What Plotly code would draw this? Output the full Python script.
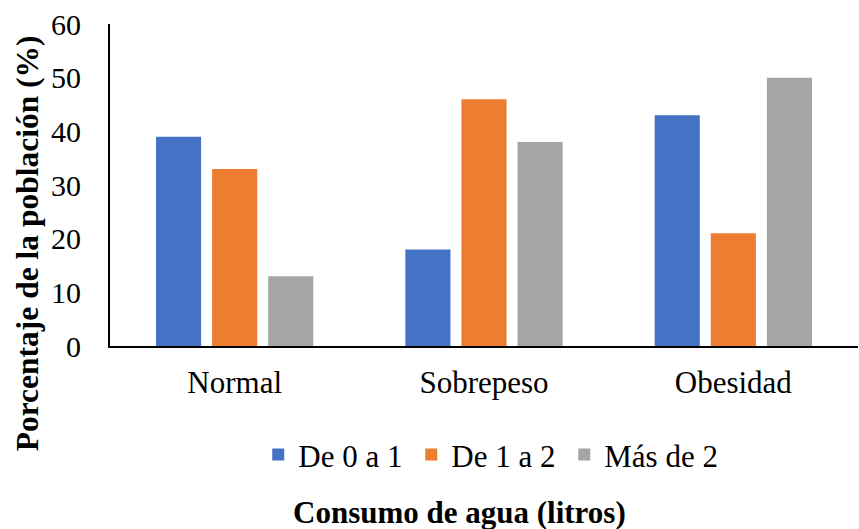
import plotly.graph_objects as go

categories = ["Normal", "Sobrepeso", "Obesidad"]
series_names = ["De 0 a 1", "De 1 a 2", "Más de 2"]
de_0_a_1 = [39, 18, 43]
de_1_a_2 = [33, 46, 21]
mas_de_2 = [13, 38, 50]
colors = ["#4472C4", "#ED7D31", "#A5A5A5"]
y_ticks = [0, 10, 20, 30, 40, 50, 60]

FONT = "Liberation Serif"

fig = go.Figure()
for name, vals, col in zip(series_names, [de_0_a_1, de_1_a_2, mas_de_2], colors):
    fig.add_trace(go.Bar(x=categories, y=vals, name=name, marker_color=col,
                         marker_line_width=0))

fig.update_layout(
    width=859, height=529,
    margin=dict(l=110, r=1, t=24, b=183),
    paper_bgcolor="white", plot_bgcolor="white",
    font=dict(family=FONT, color="black", size=30),
    barmode="group", bargap=0.325, bargroupgap=0.196,
    legend=dict(orientation="h", x=0.505, xanchor="center", y=-0.338, yanchor="middle",
                font=dict(family=FONT, size=31), itemwidth=30, entrywidth=108,
                traceorder="normal"),
    showlegend=True,
)
fig.update_xaxes(showline=True, linecolor="black", linewidth=2, showgrid=False,
                 ticks="", tickfont=dict(family=FONT, size=31), ticklabelstandoff=8)
fig.update_yaxes(range=[0, 60], tickvals=y_ticks, showline=True, linecolor="black",
                 linewidth=2, showgrid=False, zeroline=False, ticks="",
                 tickfont=dict(family=FONT, size=30), ticklabelstandoff=21)

fig.add_annotation(text="<b>Consumo de agua (litros)</b>", xref="paper", yref="paper",
                   x=0.467, y=-0.518, xanchor="center", yanchor="middle",
                   showarrow=False, font=dict(family=FONT, size=31))
fig.add_annotation(text="<b>Porcentaje de la población (%)</b>", xref="paper", yref="paper",
                   x=-0.11, y=0.318, xanchor="center", yanchor="middle", textangle=-90,
                   showarrow=False, font=dict(family=FONT, size=31.5))

fig.write_html("out.html")
